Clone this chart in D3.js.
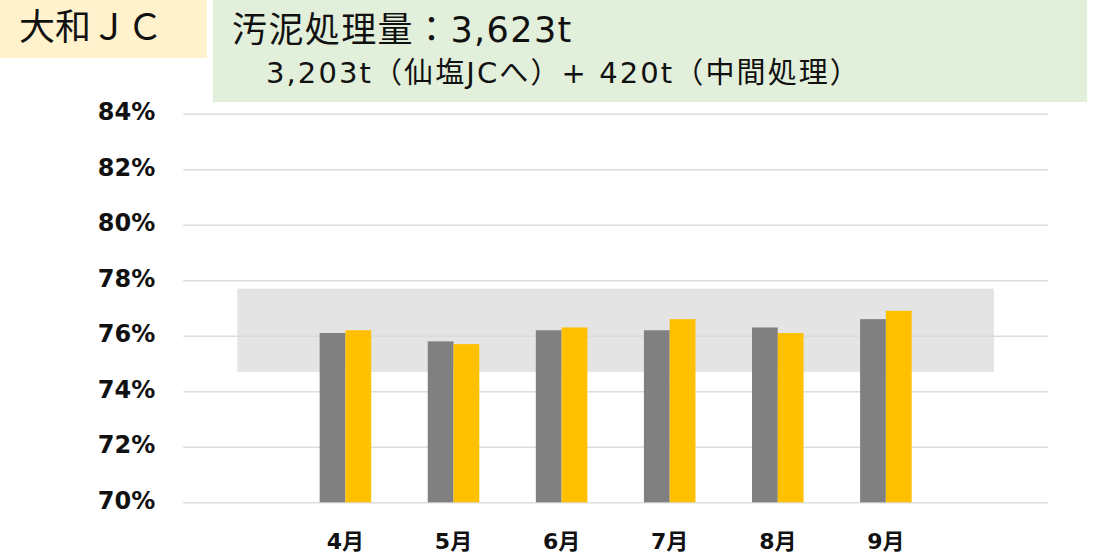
<!DOCTYPE html>
<html>
<head>
<meta charset="utf-8">
<script src="https://cdn.jsdelivr.net/npm/d3@7"></script>
<style>
  body { margin: 0; background: #fff; }
  svg { display: block; }
  .cjk { font-family: "DejaVu Sans", "Noto Sans CJK JP", sans-serif; }
</style>
</head>
<body>
<div id="chart"></div>
<script>
// data
const months = ["", "4月", "5月", "6月", "7月", "8月", "9月", " "];
const seriesNames = ["a", "b"];
const seriesA = [null, 76.1, 75.8, 76.2, 76.2, 76.3, 76.6, null];
const seriesB = [null, 76.2, 75.7, 76.3, 76.6, 76.1, 76.9, null];
const bandRange = [74.7, 77.7];
const yTicks = [70, 72, 74, 76, 78, 80, 82, 84];
const titleLeft = "大和ＪＣ";
const titleLine1 = "汚泥処理量：3,623t";
const titleLine2 = "3,203t（仙塩JCへ）+ 420t（中間処理）";

const w = 1102, h = 554;
const padL = 183.3, padR = 1048, padT = 113.8, padB = 502.3;
const colors = ["#808080", "#FFC000"];

const svg = d3.select("#chart").append("svg")
  .attr("width", w).attr("height", h);

// header boxes
svg.append("rect").attr("x", 0).attr("y", 0).attr("width", 207).attr("height", 58)
  .attr("fill", "#FFF2CC");
svg.append("text").attr("class", "cjk").attr("x", 19).attr("y", 40)
  .attr("font-size", 36).attr("fill", "#111").text(titleLeft);

svg.append("rect").attr("x", 213).attr("y", 0).attr("width", 874).attr("height", 102)
  .attr("fill", "#E2EFDA");
svg.append("text").attr("class", "cjk").attr("x", 232).attr("y", 42)
  .attr("font-size", 35).attr("letter-spacing", 1.4).attr("fill", "#111").text(titleLine1);
svg.append("text").attr("class", "cjk").attr("x", 266).attr("y", 83)
  .attr("font-size", 29).attr("letter-spacing", 2.1).attr("fill", "#111").text(titleLine2);

// scales
const x = d3.scaleBand().domain(months).range([padL, padR]).padding(0);
const bw = x.bandwidth() * 0.2385;
const x1 = d3.scaleBand().domain(seriesNames).range([0, bw * 2]);
const y = d3.scaleLinear().domain([70, 84]).range([padB, padT]);

// band
svg.append("rect")
  .attr("x", x(months[0]) + x.bandwidth() / 2)
  .attr("y", y(bandRange[1]))
  .attr("width", x(months[months.length - 1]) - x(months[0]))
  .attr("height", y(bandRange[0]) - y(bandRange[1]))
  .attr("fill", "#E4E4E4");

// grid
const yAxis = d3.axisLeft(y).tickValues(yTicks).tickSize(-(padR - padL))
  .tickFormat(d => d + "%").tickPadding(28);
const gy = svg.append("g").attr("transform", `translate(${padL},0)`).call(yAxis);
gy.select(".domain").remove();
gy.selectAll(".tick line").attr("stroke", "#D9D9D9").attr("stroke-width", 1.5)
  .attr("stroke-opacity", 0.9);
gy.selectAll(".tick text")
  .attr("font-family", "DejaVu Sans").attr("font-weight", "bold")
  .attr("font-size", 24).attr("fill", "#111").attr("dy", "0.24em");

// bars
const groups = svg.append("g").selectAll("g")
  .data(months.map((m, i) => ({ m, vals: [seriesA[i], seriesB[i]] })))
  .join("g")
  .attr("transform", d => `translate(${x(d.m) + (x.bandwidth() - bw * 2) / 2},0)`);

groups.selectAll("rect")
  .data(d => d.vals.map((v, k) => ({ v, k })).filter(e => e.v != null))
  .join("rect")
  .attr("x", e => x1(seriesNames[e.k]))
  .attr("y", e => y(e.v))
  .attr("width", x1.bandwidth())
  .attr("height", e => y(70) - y(e.v))
  .attr("fill", e => colors[e.k]);

// x labels
const xAxis = d3.axisBottom(x).tickSize(0).tickPadding(0);
const gx = svg.append("g").attr("transform", `translate(0,${padB})`).call(xAxis);
gx.select(".domain").remove();
gx.selectAll(".tick text")
  .attr("class", "cjk").attr("font-weight", "bold")
  .attr("font-size", 22).attr("fill", "#111")
  .attr("dy", 0).attr("y", 47);
</script>
</body>
</html>
